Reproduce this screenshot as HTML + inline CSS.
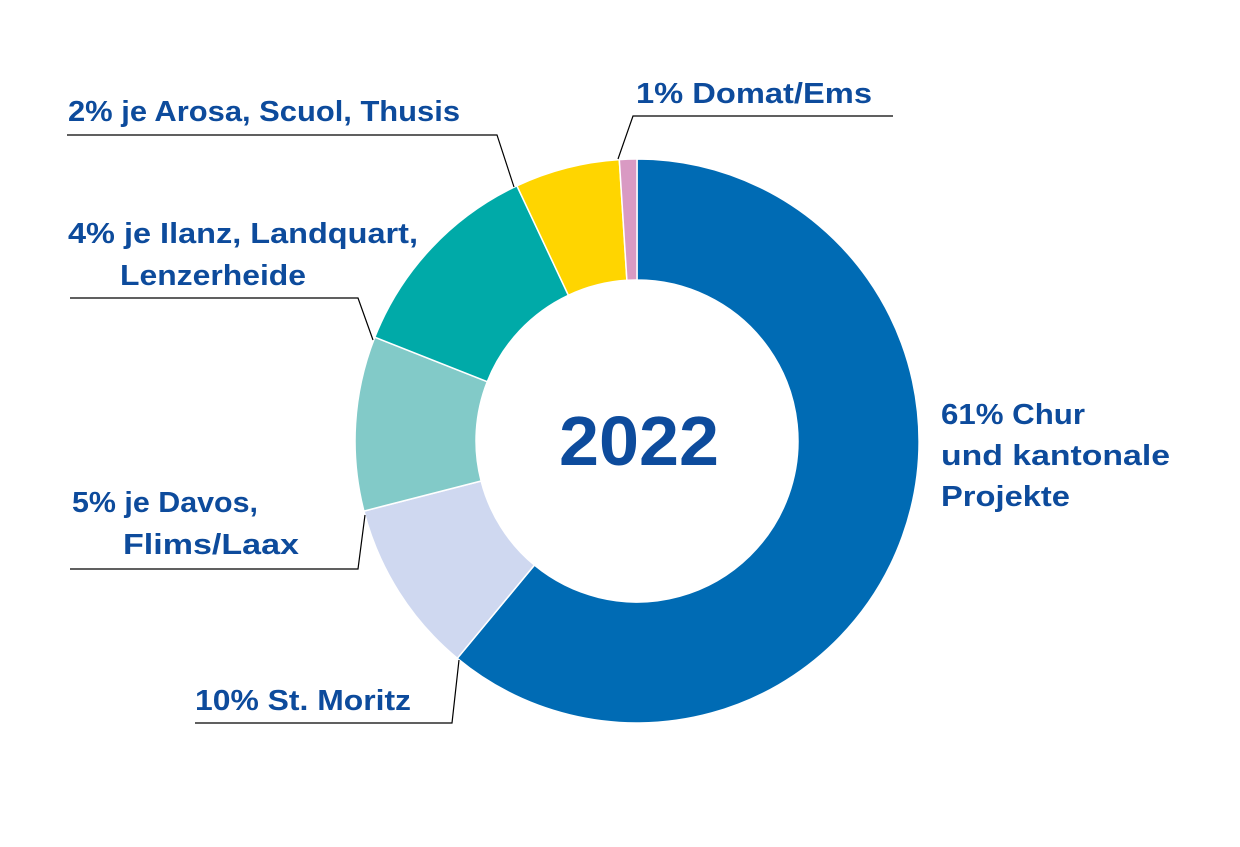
<!DOCTYPE html>
<html><head><meta charset="utf-8"><style>
html,body{margin:0;padding:0;background:#fff}
svg{display:block}
text{font-family:"Liberation Sans",sans-serif;font-weight:bold;fill:#0d4b9c;font-size:29px}
</style></head><body>
<svg width="1240" height="847" viewBox="0 0 1240 847" xmlns="http://www.w3.org/2000/svg">
<g stroke="#fff" stroke-width="1.5" stroke-linejoin="round">
<path d="M637,159 A282,282 0 1 1 457.3,658.3 L534.4,565.1 A161,161 0 1 0 637,280 Z" fill="#006bb4"/>
<path d="M457.3,658.3 A282,282 0 0 1 363.9,511.1 L481.1,481 A161,161 0 0 0 534.4,565.1 Z" fill="#cfd8f0"/>
<path d="M363.9,511.1 A282,282 0 0 1 374.8,337.2 L487.3,381.7 A161,161 0 0 0 481.1,481 Z" fill="#82cac8"/>
<path d="M374.8,337.2 A282,282 0 0 1 516.9,185.8 L568.4,295.3 A161,161 0 0 0 487.3,381.7 Z" fill="#00aaa8"/>
<path d="M516.9,185.8 A282,282 0 0 1 619.3,159.6 L626.9,280.3 A161,161 0 0 0 568.4,295.3 Z" fill="#ffd500"/>
<path d="M619.3,159.6 A282,282 0 0 1 637,159 L637,280 A161,161 0 0 0 626.9,280.3 Z" fill="#d99ac3"/>
</g>
<g stroke="#000" stroke-width="1.2" fill="none">
<polyline points="618,159 633,116 893,116"/>
<polyline points="67,135 497,135 514,187"/>
<polyline points="70,298 358,298 373,340"/>
<polyline points="70,569 358,569 365,515"/>
<polyline points="195,723 452,723 459,660"/>
</g>
<text x="559" y="465" style="font-size:70px" textLength="160" lengthAdjust="spacingAndGlyphs">2022</text>
<text x="636" y="103" textLength="236" lengthAdjust="spacingAndGlyphs">1% Domat/Ems</text>
<text x="68" y="121" textLength="392" lengthAdjust="spacingAndGlyphs">2% je Arosa, Scuol, Thusis</text>
<text x="68" y="243" textLength="350" lengthAdjust="spacingAndGlyphs">4% je Ilanz, Landquart,</text>
<text x="120" y="285" textLength="186" lengthAdjust="spacingAndGlyphs">Lenzerheide</text>
<text x="72" y="512" textLength="186" lengthAdjust="spacingAndGlyphs">5% je Davos,</text>
<text x="123" y="554" textLength="176" lengthAdjust="spacingAndGlyphs">Flims/Laax</text>
<text x="195" y="710" textLength="216" lengthAdjust="spacingAndGlyphs">10% St. Moritz</text>
<text x="941" y="424" textLength="144" lengthAdjust="spacingAndGlyphs">61% Chur</text>
<text x="941" y="465" textLength="229" lengthAdjust="spacingAndGlyphs">und kantonale</text>
<text x="941" y="506" textLength="129" lengthAdjust="spacingAndGlyphs">Projekte</text>
</svg>
</body></html>
